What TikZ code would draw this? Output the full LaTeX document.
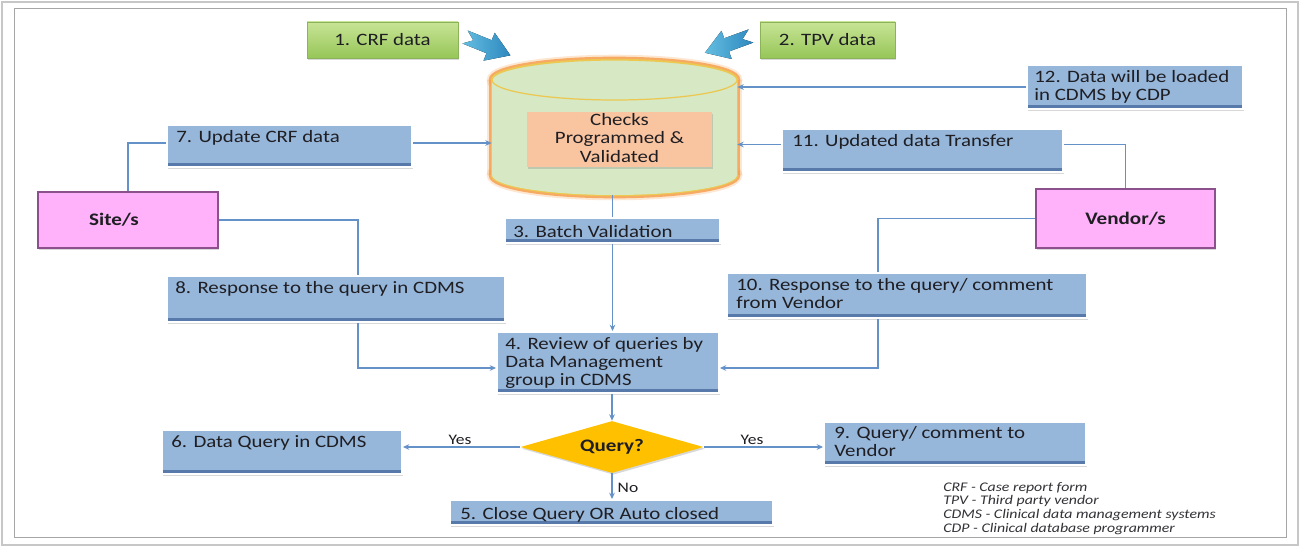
\documentclass[tikz,border=0pt]{standalone}
\usepackage{fontspec}
\setmainfont{Carlito}[FakeStretch=1.2]
\newfontfamily\legendfont{Carlito}[FakeStretch=1.2]
\usetikzlibrary{shadows,fit,shapes.geometric,arrows.meta,calc}
\definecolor{boxblue}{RGB}{150,182,218}
\definecolor{boxdark}{RGB}{88,122,170}
\definecolor{textc}{RGB}{30,30,35}
\definecolor{linec}{RGB}{100,145,200}
\definecolor{pinkf}{RGB}{255,178,250}
\definecolor{pinkd}{RGB}{140,80,140}
\definecolor{greenT}{RGB}{200,228,150}
\definecolor{greenB}{RGB}{150,198,88}
\definecolor{greenD}{RGB}{140,178,90}
\definecolor{cylf}{RGB}{214,232,196}
\definecolor{glowo}{RGB}{247,160,80}
\definecolor{rimy}{RGB}{236,200,80}
\definecolor{peach}{RGB}{249,196,160}
\definecolor{diaf}{RGB}{255,192,0}
\definecolor{arrL}{RGB}{100,190,225}
\definecolor{arrR}{RGB}{45,135,190}
\definecolor{legc}{RGB}{50,50,55}
\begin{document}
\begin{tikzpicture}[x=0.02cm, y=-0.02cm,
  shd/.style={drop shadow={shadow xshift=0.8pt, shadow yshift=-1pt, opacity=0.3}},
  bluebox/.style={shd, fill=boxblue, draw=white, line width=1.1pt, inner sep=0pt,
    path picture={\fill[boxdark] (path picture bounding box.south west) rectangle ([yshift=2pt]path picture bounding box.south east);}},
  greenbox/.style={shd, top color=greenT, bottom color=greenB, draw=greenD, line width=0.5pt, inner sep=0pt},
  pinkbox/.style={shd, fill=pinkf, draw=pinkd, line width=0.8pt, inner sep=0pt},
  txt/.style={font=\fontsize{9.9}{10.2}\selectfont, text=textc, inner sep=0pt, align=left},
  ctxt/.style={font=\fontsize{9.9}{10.4}\selectfont, text=textc, inner sep=0pt, align=center},
  btxt/.style={font=\fontsize{10}{11}\selectfont\bfseries, text=textc, inner sep=0pt},
  lbl/.style={font=\fontsize{8.3}{9}\selectfont, text=textc, inner sep=0pt},
  legtxt/.style={font=\legendfont\itshape\fontsize{7.5}{7.9}\selectfont, text=legc, inner sep=0pt, align=left},
  conn/.style={draw=linec, line width=0.6pt},
  arr/.style={conn, -{Stealth[length=3.6pt,width=3.2pt]}},
  chunk/.style={left color=arrL, right color=arrR, draw=none}
]
\useasboundingbox (0,0) rectangle (1301,550);
\fill[white] (0,0) rectangle (1301,550);
% frames
\draw[black!22, line width=1.4pt] (2,2) rectangle (1298,545);
\draw[black!35, line width=0.5pt] (14,8) rectangle (1286,537);

% cylinder
\foreach \w/\c/\o in {6pt/glowo/0.25, 3.8pt/glowo/0.85, 1.3pt/rimy/1} {
  \draw[draw=\c, draw opacity=\o, line width=\w] (614.5,80) ellipse [x radius=2.45cm, y radius=0.4cm];
  \draw[draw=\c, draw opacity=\o, line width=\w] (614.5,175) ellipse [x radius=2.45cm, y radius=0.4cm];
  \draw[draw=\c, draw opacity=\o, line width=\w] (492,80) -- (492,175);
  \draw[draw=\c, draw opacity=\o, line width=\w] (737,80) -- (737,175);
}
\fill[cylf] (614.5,175) ellipse [x radius=2.45cm, y radius=0.4cm];
\fill[cylf] (492,80) rectangle (737,175);
\fill[cylf] (614.5,80) ellipse [x radius=2.45cm, y radius=0.4cm];
\draw[rimy, line width=0.7pt] (614.5,80) ellipse [x radius=2.45cm, y radius=0.4cm];
\node[fit={(492,60) (737,195)}, inner sep=0pt] (db) {};
\node[shd, fill=peach, inner sep=0pt, fit={(527,112) (712,167)}] (chk) {};
\node[ctxt] (chkt) at (619.5,138) {Checks\\Programmed \&\\Validated};

% chunky blue arrows
\begin{scope}[shift={(465,37)}, rotate=-22]
  \fill[chunk] (0,-7) -- (26,-7) -- (26,-15) -- (49,0) -- (26,15) -- (26,7) -- (0,7) -- (9,0) -- cycle;
\end{scope}
\begin{scope}[shift={(751,36)}, rotate=200]
  \fill[chunk] (0,-7) -- (26,-7) -- (26,-15) -- (49,0) -- (26,15) -- (26,7) -- (0,7) -- (9,0) -- cycle;
\end{scope}

% green boxes
\node[greenbox, fit={(307,22) (458,58)}] (g1) {};
\node[txt] (g1t) at (g1) {1. CRF data};
\node[greenbox, fit={(760,22) (895,58)}] (g2) {};
\node[txt] (g2t) at (g2) {2. TPV data};

% pink boxes
\node[pinkbox, fit={(38,192) (218,248)}] (site) {};
\node[btxt] (sitet) at (114,220) {Site/s};
\node[pinkbox, fit={(1036,189) (1215,248)}] (vendor) {};
\node[btxt] (vendort) at (vendor) {Vendor/s};

% blue boxes
\node[bluebox, fit={(1027,65) (1243,109)}] (n12) {};
\node[txt, anchor=north west] (t12) at ([shift={(8,6)}]n12.north west) {\strut 12. Data will be loaded\\in CDMS by CDP};
\node[bluebox, fit={(167,125) (412,167)}] (n7) {};
\node[txt, anchor=north west] (t7) at ([shift={(10,6)}]n7.north west) {\strut 7. Update CRF data};
\node[bluebox, fit={(782,129) (1063,172)}] (n11) {};
\node[txt, anchor=north west] (t11) at ([shift={(11,6)}]n11.north west) {\strut 11. Updated data Transfer};
\node[bluebox, fit={(505,218) (720,243)}] (n3) {};
\node[txt, anchor=base west] (t3) at ([shift={(9,-6)}]n3.south west) {3. Batch Validation};
\node[bluebox, fit={(167,276) (505,322)}] (n8) {};
\node[txt, anchor=north west] (t8) at ([shift={(9,6)}]n8.north west) {\strut 8. Response to the query in CDMS};
\node[bluebox, fit={(727,273) (1087,318)}] (n10) {};
\node[txt, anchor=north west] (t10) at ([shift={(10,6)}]n10.north west) {\strut 10. Response to the query/ comment\\from Vendor};
\node[bluebox, fit={(497,332) (719,393)}] (n4) {};
\node[txt, anchor=north west] (t4) at ([shift={(9,6)}]n4.north west) {\strut 4. Review of queries by\\Data Management\\group in CDMS};
\node[bluebox, fit={(162,430) (402,474)}] (n6) {};
\node[txt, anchor=north west] (t6) at ([shift={(10,6)}]n6.north west) {\strut 6. Data Query in CDMS};
\node[bluebox, fit={(824,422) (1086,465)}] (n9) {};
\node[txt, anchor=north west] (t9) at ([shift={(11,5)}]n9.north west) {\strut 9. Query/ comment to\\Vendor};
\node[bluebox, fit={(450,500) (773,525)}] (n5) {};
\node[txt, anchor=base west] (t5) at ([shift={(11,-6)}]n5.south west) {5. Close Query OR Auto closed};

% decision
\node[diamond, shd, fill=diaf, inner sep=0pt, minimum width=3.66cm, minimum height=1.04cm] (dia) at (612,447) {};
\node[btxt] (diat) at (dia) {Query?};

% connectors
\coordinate (c7w) at ([yshift=0.06cm]n7.west);
\coordinate (c7e) at ([yshift=0.06cm]n7.east);
\draw[conn] (c7w) -| (site.north);
\draw[arr] (c7e) -- (c7e -| db.west);
\coordinate (c11w) at ([yshift=0.12cm]n11.west);
\coordinate (c11e) at ([yshift=0.12cm]n11.east);
\draw[arr] (c11w) -- (c11w -| db.east);
\draw[conn] (c11e) -| (vendor.north);
\draw[arr] (n12.west) -- (n12.west -| db.east);
\draw[conn] (db.south -| n3.north) -- (n3.north);
\draw[arr] (n3.south) -- (n3.south |- n4.north);
\coordinate (c8n) at ([xshift=0.44cm]n8.north);
\coordinate (c8s) at ([xshift=0.44cm]n8.south);
\coordinate (c4w) at ([yshift=-0.11cm]n4.west);
\coordinate (c4e) at ([yshift=-0.11cm]n4.east);
\draw[conn] (site.east) -| (c8n);
\draw[arr] (c8s) |- (c4w);
\coordinate (c10n) at ([xshift=-0.58cm]n10.north);
\coordinate (c10s) at ([xshift=-0.58cm]n10.south);
\draw[conn] (vendor.west) -| (c10n);
\draw[arr] (c10s) |- (c4e);
\draw[arr] (n4.south -| dia.north) -- (dia.north);
\draw[arr] (dia.west) -- (dia.west -| n6.east);
\draw[arr] (dia.east) -- (dia.east -| n9.west);
\draw[arr] (dia.south) -- (dia.south |- n5.north);
\node[lbl] (yesl) at (460,440) {Yes};
\node[lbl] (yesr) at (752,440) {Yes};
\node[lbl] (nol) at (628,488) {No};

% legend
\node[legtxt, anchor=north west] (leg) at (943,481) {\strut CRF - Case report form\\TPV - Third party vendor\\CDMS - Clinical data management systems\\CDP - Clinical database programmer};
\end{tikzpicture}
\end{document}
